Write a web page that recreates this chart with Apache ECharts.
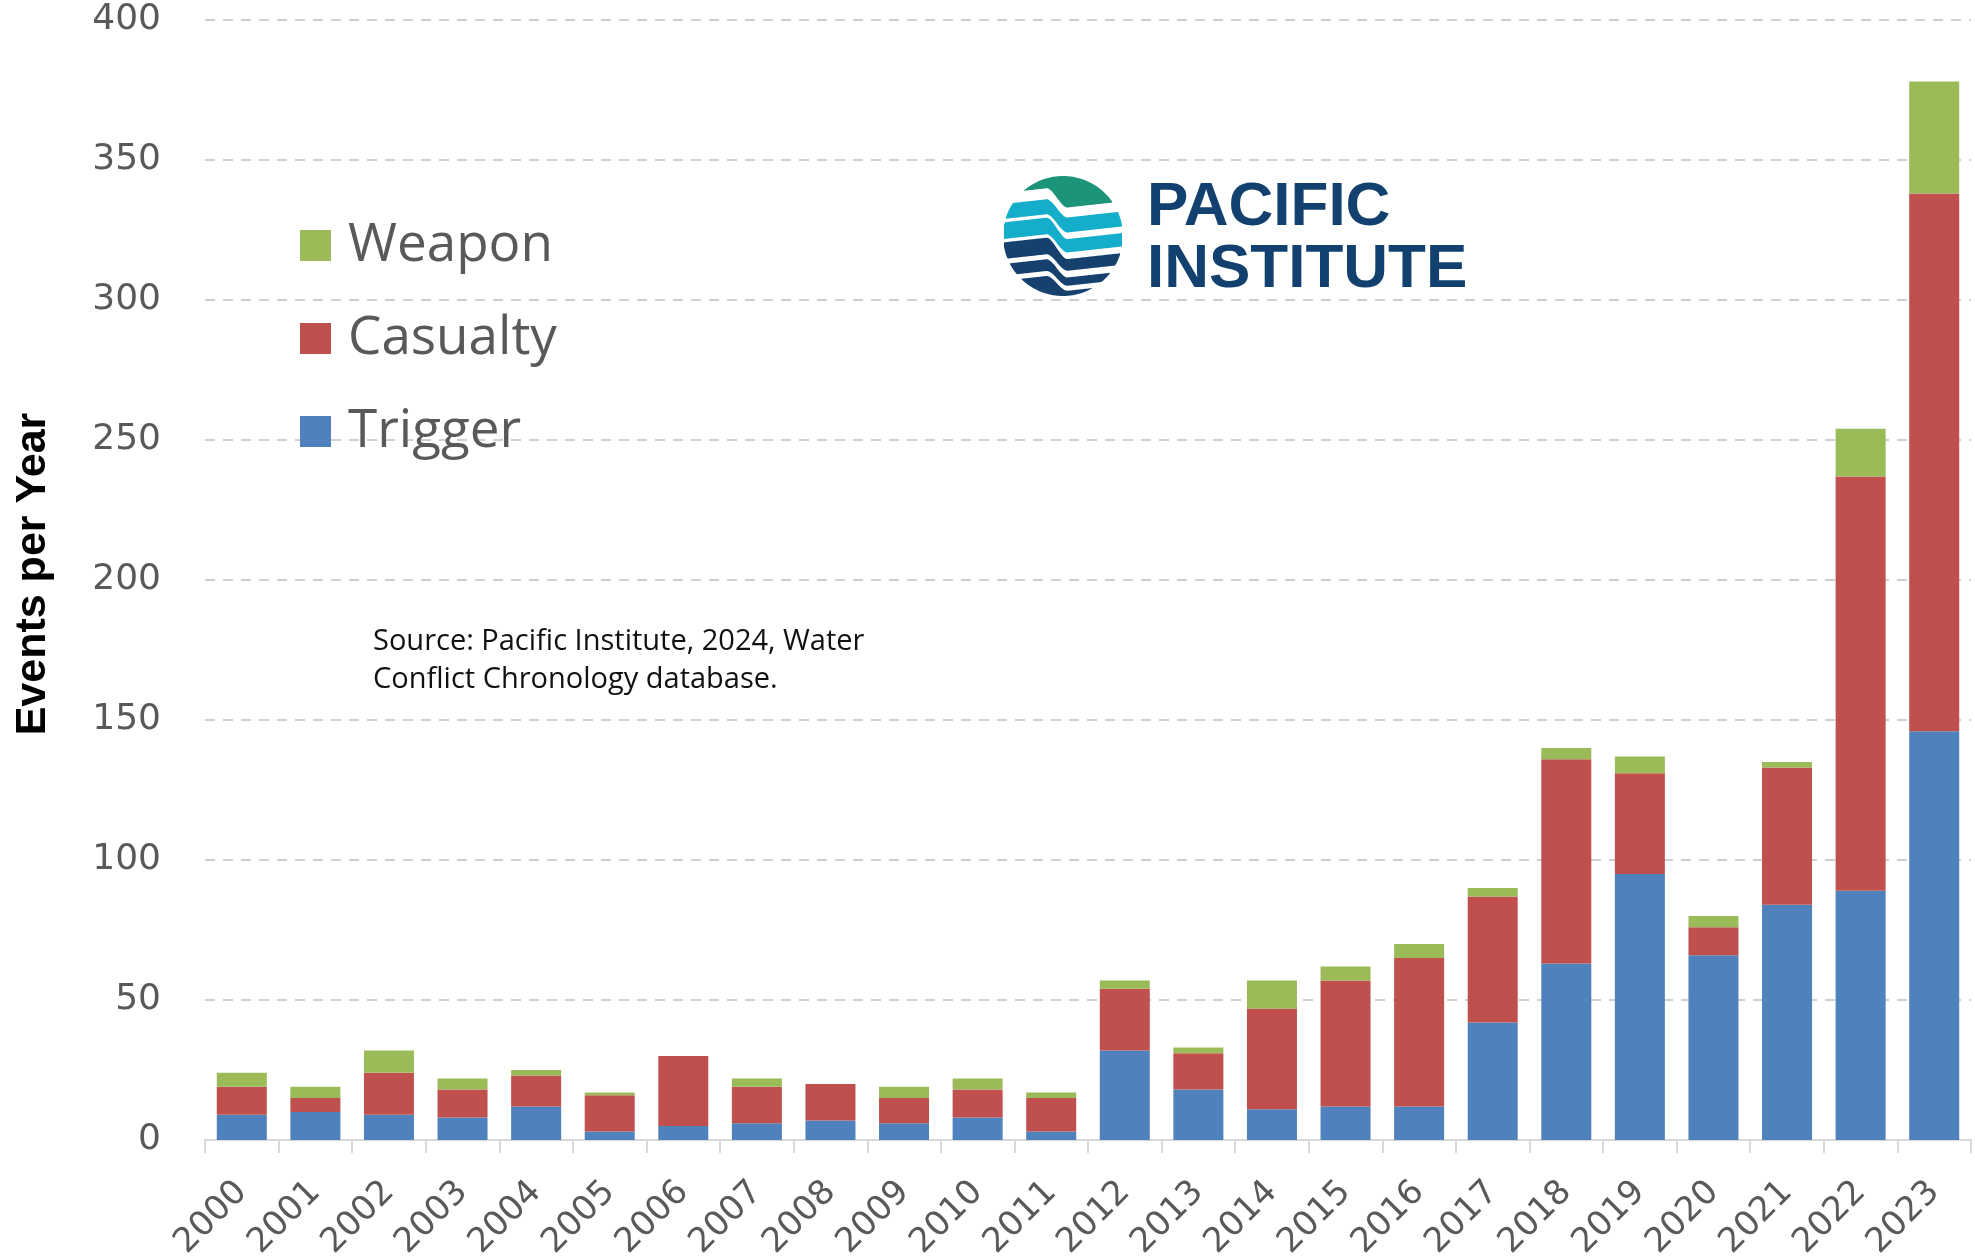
<!DOCTYPE html>
<html>
<head>
<meta charset="utf-8">
<script src="https://cdn.jsdelivr.net/npm/echarts@6/dist/echarts.min.js"></script>
<style>
html,body{margin:0;padding:0;background:#fff;}
#chart{width:1975px;height:1256px;}
</style>
</head>
<body>
<div id="chart"></div>
<script>
// ---- data ----
const years = ['2000','2001','2002','2003','2004','2005','2006','2007','2008','2009','2010','2011',
               '2012','2013','2014','2015','2016','2017','2018','2019','2020','2021','2022','2023'];
const trigger  = [9, 10, 9, 8, 12, 3, 5, 6, 7, 6, 8, 3, 32, 18, 11, 12, 12, 42, 63, 95, 66, 84, 89, 146];
const casualty = [10, 5, 15, 10, 11, 13, 25, 13, 13, 9, 10, 12, 22, 13, 36, 45, 53, 45, 73, 36, 10, 49, 148, 192];
const weapon   = [5, 4, 8, 4, 2, 1, 0, 3, 0, 4, 4, 2, 3, 2, 10, 5, 5, 3, 4, 6, 4, 2, 17, 40];
const yTicks = {min: 0, max: 400, interval: 50};

// ---- logo geometry (decoration) ----
const LCX = 1063, LCY = 236, LR = 60;
function smooth(t){ t = Math.min(1, Math.max(0, t)); return t*t*(3-2*t); }
function wave(yL, yR){
  const B = -0.11;
  const A = yL + B*53;
  const D = yR - (A + B*57);
  return x => A + B*(x - LCX) + D*smooth((x - 1046)/22);
}
function band(topFn, botFn){
  const up = [], lo = [];
  for (let x = LCX - LR; x <= LCX + LR; x += 1){
    const dx = x - LCX, h = Math.sqrt(Math.max(0, LR*LR - dx*dx));
    const t = Math.max(topFn(x), LCY - h), b = Math.min(botFn(x), LCY + h);
    if (b > t){ up.push([x, t]); lo.push([x, b]); }
  }
  return up.concat(lo.reverse());
}
const NEG = () => -1e4, POS = () => 1e4;
const bands = [
  {c:'#1b9479', t:NEG, b:wave(192.3, 201.7)},
  {c:'#14adca', t:wave(203.3, 211.7), b:wave(218.3, 226.7)},
  {c:'#14adca', t:wave(221.7, 233.3), b:wave(238.3, 246.7)},
  {c:'#16416f', t:wave(241.7, 253.3), b:wave(258.3, 265)},
  {c:'#16416f', t:wave(263.3, 271.7), b:wave(275, 280)},
  {c:'#16416f', t:wave(280, 285), b:POS}
];
const logoGraphics = bands.map(bd => ({
  type:'polygon', shape:{points: band(bd.t, bd.b)}, style:{fill: bd.c}, silent:true
}));

const chart = echarts.init(document.getElementById('chart'), null, {renderer:'canvas'});
const axisGray = '#595959';
const option = {
  backgroundColor:'#ffffff',
  animation:false,
  grid:{left:205, right:4, top:20, bottom:116, containLabel:false, outerBoundsMode:'none'},
  legend:{
    data:['Weapon','Casualty','Trigger'],
    orient:'vertical', left:295, top:214,
    itemWidth:31, itemHeight:31, itemGap:40,
    icon:'rect',
    textStyle:{fontFamily:'Open Sans', fontSize:53, color:'#595959', padding:[0,0,0,12]}
  },
  xAxis:{
    type:'category', data:years,
    axisLine:{show:true, lineStyle:{color:'#d9d9d9', width:2}},
    axisTick:{show:true, length:13, lineStyle:{color:'#d9d9d9', width:2}},
    axisLabel:{rotate:45, fontFamily:'DejaVu Sans', fontSize:34, color:axisGray, margin:47, interval:0}
  },
  yAxis:{
    type:'value', min:yTicks.min, max:yTicks.max, interval:yTicks.interval,
    name:'Events per Year', nameLocation:'middle', nameGap:150, nameRotate:90,
    nameTextStyle:{fontFamily:'Liberation Sans', fontWeight:'bold', fontSize:43, color:'#000', padding:[0,0,0,12]},
    axisLine:{show:false}, axisTick:{show:false},
    axisLabel:{fontFamily:'DejaVu Sans', fontSize:36, color:axisGray, margin:44},
    splitLine:{lineStyle:{color:'#d0d0d0', width:2, type:[10,8]}}
  },
  series:[
    {name:'Trigger', type:'bar', stack:'t', data:trigger, barWidth:50, itemStyle:{color:'#4f81bd'}},
    {name:'Casualty', type:'bar', stack:'t', data:casualty, barWidth:50, itemStyle:{color:'#c0504d'}},
    {name:'Weapon', type:'bar', stack:'t', data:weapon, barWidth:50, itemStyle:{color:'#9bbb59'}}
  ],
  graphic: logoGraphics.concat([
    {type:'text', x:1147, y:208, silent:true,
     style:{text:'PACIFIC', font:'bold 62px "Liberation Sans"', fill:'#12416f', verticalAlign:'middle', align:'left'}},
    {type:'text', x:1147, y:270, silent:true,
     style:{text:'INSTITUTE', font:'bold 62px "Liberation Sans"', fill:'#12416f', verticalAlign:'middle', align:'left'}},
    {type:'text', x:373, y:642, silent:true,
     style:{text:'Source: Pacific Institute, 2024, Water', font:'29px "Open Sans"', fill:'#111', verticalAlign:'middle', align:'left'}},
    {type:'text', x:373, y:680, silent:true,
     style:{text:'Conflict Chronology database.', font:'29px "Open Sans"', fill:'#111', verticalAlign:'middle', align:'left'}}
  ])
};
chart.setOption(option);
</script>
</body>
</html>
